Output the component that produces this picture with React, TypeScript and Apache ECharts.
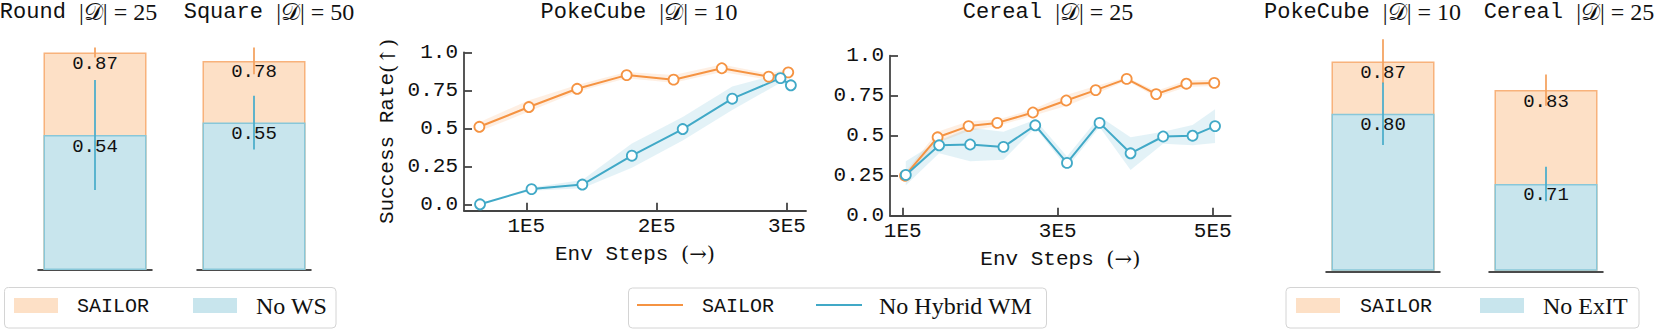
import React, { useEffect, useRef } from "react";
import * as echarts from "echarts";

const MONO = "'Liberation Mono', 'DejaVu Sans Mono', monospace";
const SERIF = "'Liberation Serif', 'DejaVu Serif', 'DejaVu Sans', serif";
const ARROWF = "'DejaVu Serif', 'Liberation Serif', serif";

// ---------- bar panels ----------
const barPanelNames = ["Round", "Square", "PokeCube", "Cereal"];
const barPanelDemos = [25, 50, 10, 25];
const barSailor = [0.87, 0.78, 0.87, 0.83];
const barSailorErr = [0.02, 0.05, 0.03, 0.02];
const barAblation = [0.54, 0.55, 0.8, 0.71];
const barAblationErr = [0.22, 0.1, 0.042, 0.022];
const barAblationNames = ["No WS", "No WS", "No ExIT", "No ExIT"];

// ---------- line panels ----------
const pokeSailorSteps = [64000, 102000, 139000, 177000, 213000, 250000, 286000, 301000];
const pokeSailor = [0.51, 0.64, 0.76, 0.85, 0.82, 0.895, 0.84, 0.868];
const pokeSailorLo = [0.48, 0.61, 0.74, 0.83, 0.8, 0.87, 0.82, 0.85];
const pokeSailorHi = [0.54, 0.685, 0.785, 0.87, 0.85, 0.92, 0.86, 0.89];
const pokeHybridSteps = [64500, 104000, 143000, 181000, 220000, 258000, 295000, 303000];
const pokeHybrid = [0.0, 0.1, 0.13, 0.32, 0.495, 0.695, 0.83, 0.783];
const pokeHybridLo = [0.0, 0.09, 0.105, 0.24, 0.42, 0.62, 0.8, 0.77];
const pokeHybridHi = [0.005, 0.11, 0.16, 0.4, 0.575, 0.775, 0.86, 0.8];

const cerealSailorSteps = [103000, 145000, 185000, 222000, 268000, 311000, 349000, 389000, 427000, 466000, 502000];
const cerealSailor = [0.25, 0.49, 0.56, 0.58, 0.645, 0.72, 0.785, 0.855, 0.76, 0.825, 0.83];
const cerealSailorLo = [0.23, 0.455, 0.53, 0.56, 0.625, 0.685, 0.76, 0.845, 0.74, 0.805, 0.81];
const cerealSailorHi = [0.27, 0.525, 0.59, 0.6, 0.665, 0.755, 0.81, 0.865, 0.78, 0.845, 0.85];
const cerealHybridSteps = [104000, 147000, 187000, 230000, 271000, 312000, 354000, 394000, 436000, 474000, 503000];
const cerealHybrid = [0.255, 0.44, 0.445, 0.43, 0.565, 0.33, 0.58, 0.39, 0.495, 0.5, 0.56];
const cerealHybridLo = [0.19, 0.39, 0.34, 0.35, 0.55, 0.3, 0.555, 0.285, 0.45, 0.44, 0.455];
const cerealHybridHi = [0.34, 0.47, 0.55, 0.525, 0.6, 0.37, 0.62, 0.49, 0.525, 0.567, 0.665];

const yTicks = [0, 0.25, 0.5, 0.75, 1];
const pokeXTicks = [100000, 200000, 300000];
const cerealXTicks = [100000, 300000, 500000];

// ---------- styles ----------
const ORANGE = "#f59342";
const BLUE = "#41a9c7";
const ORANGE_FILL = "#fde0c6";
const ORANGE_EDGE = "#f8b27b";
const BLUE_FILL = "#c8e5ed";
const BLUE_EDGE = "#88c7d9";
const ORANGE_ERR = "#f4a462";
const BLUE_ERR = "#4eaecb";
const AXIS = "#444";
const TXT = "#111";

// layout of panels (positions only)
const barGrids = [
  { left: 38, width: 114, top: 20, height: 250, min: 0, max: 1 },
  { left: 197, width: 114, top: 2, height: 268, min: 0, max: 1 },
  { left: 1326, width: 114, top: 2, height: 268, min: 0.59, max: 0.95 },
  { left: 1489, width: 114, top: 4, height: 266, min: 0.6, max: 0.94 },
];
const lineGrids = [
  { left: 464, top: 52.3, width: 342, height: 158.4, xmin: 52200, xmax: 314600, ymin: -0.042, ymax: 1 },
  { left: 890, top: 55.7, width: 340.7, height: 160, xmin: 83600, xmax: 523200, ymin: 0, ymax: 1 },
];
const titleCenters = [78.5, 269, 639, 1048, 1362.5, 1569];

function errRender(color: string) {
  return (params: any, api: any) => {
    const x = api.value(0);
    const v = api.value(1);
    const e = api.value(2);
    const p1 = api.coord([x, v - e]);
    const p2 = api.coord([x, v + e]);
    return {
      type: "line",
      shape: { x1: p1[0], y1: p1[1], x2: p2[0], y2: p2[1] },
      style: { stroke: color, lineWidth: 1.8 },
    };
  };
}

function bandSeries(xs: number[], lo: number[], hi: number[], color: string, axisIdx: number) {
  return {
    type: "custom",
    xAxisIndex: axisIdx,
    yAxisIndex: axisIdx,
    z: 1,
    silent: true,
    data: xs.map((x, i) => [x, lo[i], hi[i]]),
    encode: { x: 0, y: [1, 2] },
    renderItem: (params: any, api: any) => {
      if (params.dataIndex !== 0) return null;
      const top = xs.map((x, i) => api.coord([x, hi[i]]));
      const bot = xs.map((x, i) => api.coord([x, lo[i]])).reverse();
      return { type: "polygon", shape: { points: top.concat(bot) }, style: { fill: color } };
    },
  };
}

function lineSeries(name: string, xs: number[], ys: number[], color: string, axisIdx: number) {
  return {
    type: "line",
    name,
    xAxisIndex: axisIdx,
    yAxisIndex: axisIdx,
    z: 3,
    data: xs.map((x, i) => [x, ys[i]]),
    symbol: "circle",
    symbolSize: 10,
    showSymbol: true,
    lineStyle: { color, width: 2 },
    itemStyle: { color: "#fff", borderColor: color, borderWidth: 1.8 },
  };
}

const nameRich = {
  m: { fontFamily: MONO, fontSize: 21, color: TXT },
  s: { fontFamily: ARROWF, fontSize: 21, color: TXT },
};

function buildOption() {
  const grid: any[] = [];
  const xAxis: any[] = [];
  const yAxis: any[] = [];
  const series: any[] = [];

  // bar panels -> axis indices 0..3
  barGrids.forEach((g, i) => {
    grid.push({ left: g.left, top: g.top, width: g.width, height: g.height, outerBoundsMode: "none" });
    xAxis.push({
      type: "category",
      gridIndex: i,
      data: [barPanelNames[i]],
      offset: 2,
      axisLine: { show: true, lineStyle: { color: "#111", width: 1.5 } },
      axisTick: { show: false },
      axisLabel: { show: false },
    });
    yAxis.push({ type: "value", gridIndex: i, min: g.min, max: g.max, show: false, splitLine: { show: false } });
    const lbl = {
      show: true,
      position: "insideTop",
      distance: 2,
      fontFamily: MONO,
      fontSize: 19,
      color: TXT,
      formatter: (p: any) => Number(p.value).toFixed(2),
    };
    series.push({
      type: "bar",
      name: "SAILOR",
      xAxisIndex: i,
      yAxisIndex: i,
      data: [barSailor[i]],
      barWidth: 103,
      barGap: "-100%",
      clip: true,
      itemStyle: { color: ORANGE_FILL, borderColor: ORANGE_EDGE, borderWidth: 1.5 },
      label: lbl,
    });
    series.push({
      type: "bar",
      name: barAblationNames[i],
      xAxisIndex: i,
      yAxisIndex: i,
      data: [barAblation[i]],
      barWidth: 103,
      barGap: "-100%",
      clip: true,
      itemStyle: { color: BLUE_FILL, borderColor: BLUE_EDGE, borderWidth: 1.5 },
      label: lbl,
    });
    series.push({
      type: "custom",
      xAxisIndex: i,
      yAxisIndex: i,
      z: 4,
      data: [[0, barSailor[i], barSailorErr[i]]],
      encode: { x: 0, y: 1 },
      renderItem: errRender(ORANGE_ERR),
    });
    series.push({
      type: "custom",
      xAxisIndex: i,
      yAxisIndex: i,
      z: 4,
      data: [[0, barAblation[i], barAblationErr[i]]],
      encode: { x: 0, y: 1 },
      renderItem: errRender(BLUE_ERR),
    });
  });

  // line panels -> axis indices 4, 5
  const xTickSets = [pokeXTicks, cerealXTicks];
  lineGrids.forEach((g, j) => {
    const gi = 4 + j;
    grid.push({ left: g.left, top: g.top, width: g.width, height: g.height, outerBoundsMode: "none" });
    xAxis.push({
      type: "value",
      gridIndex: gi,
      min: g.xmin,
      max: g.xmax,
      splitLine: { show: false },
      axisLine: { show: true, onZero: false, lineStyle: { color: AXIS, width: 1.8 } },
      axisTick: { show: true, inside: true, length: 8, customValues: xTickSets[j], lineStyle: { color: AXIS, width: 1.8 } },
      axisLabel: {
        customValues: xTickSets[j],
        margin: 5,
        fontFamily: MONO,
        fontSize: 21,
        color: TXT,
        formatter: (v: number) => `${Math.round(v / 1e5)}E5`,
      },
      name: "{m|Env Steps }{s|(→)}",
      nameLocation: "middle",
      nameGap: 33,
      nameMoveOverlap: false,
      nameTextStyle: { rich: nameRich },
    });
    yAxis.push({
      type: "value",
      gridIndex: gi,
      min: g.ymin,
      max: g.ymax,
      splitLine: { show: false },
      axisLine: { show: true, onZero: false, lineStyle: { color: AXIS, width: 1.8 } },
      axisTick: { show: true, inside: true, length: 8, customValues: yTicks, lineStyle: { color: AXIS, width: 1.8 } },
      axisLabel: {
        customValues: yTicks,
        margin: 6,
        fontFamily: MONO,
        fontSize: 21,
        color: TXT,
        formatter: (v: number) => (v === 0 ? "0.0" : v === 1 ? "1.0" : String(v)),
      },
      ...(j === 0
        ? {
            name: "{m|Success Rate}{s|(↑)}",
            nameLocation: "middle",
            nameGap: 66,
            nameMoveOverlap: false,
            nameTextStyle: { rich: nameRich },
          }
        : {}),
    });
  });

  series.push(bandSeries(pokeSailorSteps, pokeSailorLo, pokeSailorHi, "rgba(245,147,66,0.15)", 4));
  series.push(bandSeries(pokeHybridSteps, pokeHybridLo, pokeHybridHi, "rgba(65,169,199,0.15)", 4));
  series.push(lineSeries("SAILOR", pokeSailorSteps, pokeSailor, ORANGE, 4));
  series.push(lineSeries("No Hybrid WM", pokeHybridSteps, pokeHybrid, BLUE, 4));
  series.push(bandSeries(cerealSailorSteps, cerealSailorLo, cerealSailorHi, "rgba(245,147,66,0.15)", 5));
  series.push(bandSeries(cerealHybridSteps, cerealHybridLo, cerealHybridHi, "rgba(65,169,199,0.15)", 5));
  series.push(lineSeries("SAILOR", cerealSailorSteps, cerealSailor, ORANGE, 5));
  series.push(lineSeries("No Hybrid WM", cerealHybridSteps, cerealHybrid, BLUE, 5));

  const titleNames = [barPanelNames[0], barPanelNames[1], "PokeCube", "Cereal", barPanelNames[2], barPanelNames[3]];
  const titleDemos = [barPanelDemos[0], barPanelDemos[1], 10, 25, barPanelDemos[2], barPanelDemos[3]];
  const title = titleNames.map((n, i) => ({
    text: `{m|${n} }{s||𝒟| = ${titleDemos[i]}}`,
    left: titleCenters[i],
    top: 0,
    padding: 0,
    textAlign: "center",
    textStyle: {
      fontWeight: "normal",
      rich: {
        m: { fontFamily: MONO, fontSize: 22, color: TXT, fontWeight: "normal" },
        s: { fontFamily: SERIF, fontSize: 24, color: TXT, fontWeight: "normal" },
      },
    },
  }));

  const legendBox = (x: number, y: number, w: number, h: number) => ({
    type: "rect",
    shape: { x, y, width: w, height: h, r: 4 },
    style: { fill: "#fff", stroke: "#d4d4d4", lineWidth: 1 },
    z: 10,
  });
  const swatch = (x: number, y: number, fill: string) => ({
    type: "rect",
    shape: { x, y, width: 44, height: 15 },
    style: { fill },
    z: 11,
  });
  const lline = (x: number, y: number, color: string) => ({
    type: "line",
    shape: { x1: x, y1: y, x2: x + 46, y2: y },
    style: { stroke: color, lineWidth: 2 },
    z: 11,
  });
  const ltext = (x: number, y: number, text: string, mono: boolean) => ({
    type: "text",
    x,
    y,
    z: 11,
    style: {
      text,
      fontFamily: mono ? MONO : SERIF,
      fontSize: mono ? 20 : 24,
      fill: TXT,
      align: "left",
      verticalAlign: "middle",
    },
  });

  const graphic = [
    legendBox(4.5, 287.5, 331.5, 40.5),
    swatch(14, 298, ORANGE_FILL),
    ltext(77, 306, "SAILOR", true),
    swatch(193, 298, BLUE_FILL),
    ltext(256, 306, barAblationNames[0], false),

    legendBox(628.5, 288, 418, 40),
    lline(637, 305, ORANGE),
    ltext(702, 306, "SAILOR", true),
    lline(816, 305, BLUE),
    ltext(879, 306, "No Hybrid WM", false),

    legendBox(1286, 287.5, 353, 40.5),
    swatch(1296, 298, ORANGE_FILL),
    ltext(1360, 306, "SAILOR", true),
    swatch(1480, 298, BLUE_FILL),
    ltext(1543, 306, barAblationNames[2], false),
  ];

  return { animation: false, backgroundColor: "#fff", title, grid, xAxis, yAxis, series, graphic };
}

export default function App() {
  const ref = useRef<HTMLDivElement>(null);
  useEffect(() => {
    const chart = echarts.init(ref.current!, null, { renderer: "svg" });
    chart.setOption(buildOption() as any);
    return () => chart.dispose();
  }, []);
  return <div ref={ref} style={{ position: "absolute", left: 0, top: 0, width: 1661, height: 330 }} />;
}
